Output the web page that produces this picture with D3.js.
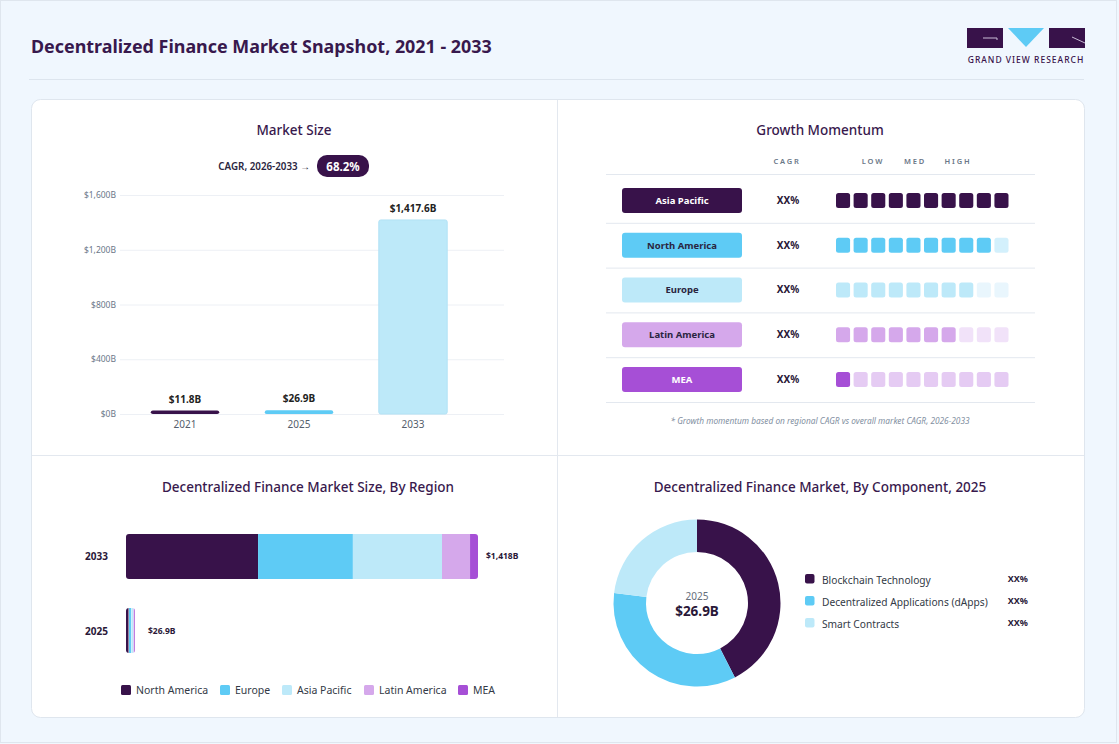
<!DOCTYPE html>
<html>
<head>
<meta charset="utf-8">
<script src="https://cdn.jsdelivr.net/npm/d3@7"></script>
<style>
  body { margin: 0; background: #f0f7fe; font-family: 'Noto Sans', sans-serif; }
  svg { display: block; }
</style>
</head>
<body>
<svg id="chart"></svg>
<script>
// market size
let years = ['2021', '2025', '2033']
let marketSize = [11.8, 26.9, 1417.6]
let marketLabels = ['$11.8B', '$26.9B', '$1,417.6B']
let yTicks = [0, 400, 800, 1200, 1600]

// growth momentum
let momentumRegions = ['Asia Pacific', 'North America', 'Europe', 'Latin America', 'MEA']
let momentumCagr = ['XX%', 'XX%', 'XX%', 'XX%', 'XX%']
let momentumScore = [10, 9, 8, 7, 1]

// by region (USD B)
let regionYears = ['2033', '2025']
let regions = ['North America', 'Europe', 'Asia Pacific', 'Latin America', 'MEA']
let northAmerica = [532, 10.1]
let europe = [382, 7.3]
let asiaPacific = [359, 6.8]
let latinAmerica = [113, 2.1]
let mea = [32, 0.6]
let regionTotals = ['$1,418B', '$26.9B']

// by component 2025 (%)
let components = ['Blockchain Technology', 'Decentralized Applications (dApps)', 'Smart Contracts']
let componentShare = [42.5, 34.4, 23.1]
let componentLabels = ['XX%', 'XX%', 'XX%']

let purple = '#38124a'
let titleColor = '#38194d'
let regionColors = ['#38124a', '#5ecbf5', '#bde9f9', '#d5a8eb', '#a64fd6']
let dimColors = ['#38124a', '#d3f0fc', '#e9f6fd', '#f1e2f9', '#e5cbf3']
let pillText = ['#fff', '#2a2540', '#2a2540', '#2a2540', '#fff']

let width = 1119
let height = 744

let svg = d3.select('#chart').attr('width', width).attr('height', height)

svg.append('rect')
  .attr('x', 0.5).attr('y', 0.5)
  .attr('width', width - 3).attr('height', height - 2)
  .attr('fill', '#f0f7fe')
  .attr('stroke', '#dfe6ee')

svg.append('text')
  .attr('x', 31).attr('y', 53)
  .attr('fill', titleColor)
  .attr('font-size', 17.9).attr('font-weight', 700)
  .text('Decentralized Finance Market Snapshot, 2021 - 2033')

svg.append('line')
  .attr('x1', 29).attr('x2', 1084).attr('y1', 79.5).attr('y2', 79.5)
  .attr('stroke', '#dde5ee')

// logo
let logo = svg.append('g')
logo.append('rect').attr('x', 967).attr('y', 28).attr('width', 36).attr('height', 20).attr('fill', purple)
logo.append('path').attr('d', 'M983,38 L997,38 L997,40').attr('stroke', '#c9bcd6').attr('fill', 'none').attr('stroke-width', 1)
logo.append('path').attr('d', 'M1008,28 L1044,28 L1026,47 Z').attr('fill', '#5ecbf5')
logo.append('rect').attr('x', 1049).attr('y', 28).attr('width', 36).attr('height', 20).attr('fill', purple)
logo.append('path').attr('d', 'M1072,37 L1085,43').attr('stroke', '#c9bcd6').attr('stroke-width', 1)
logo.append('text')
  .attr('x', 1026).attr('y', 63).attr('text-anchor', 'middle')
  .attr('fill', purple).attr('font-size', 8.5).attr('font-weight', 500)
  .attr('letter-spacing', 1)
  .text('GRAND VIEW RESEARCH')

// card
svg.append('rect')
  .attr('x', 31.5).attr('y', 99.5).attr('width', 1053).attr('height', 618).attr('rx', 9)
  .attr('fill', '#fff').attr('stroke', '#dfe6ee')
svg.append('line').attr('x1', 557.5).attr('x2', 557.5).attr('y1', 100).attr('y2', 717).attr('stroke', '#e3e8ef')
svg.append('line').attr('x1', 32).attr('x2', 1084).attr('y1', 455.5).attr('y2', 455.5).attr('stroke', '#e3e8ef')

function panelTitle(x, y, t) {
  svg.append('text')
    .attr('x', x).attr('y', y).attr('text-anchor', 'middle')
    .attr('fill', titleColor).attr('font-size', 13.5).attr('font-weight', 500)
    .text(t)
}

// ---- Market Size ----
panelTitle(294, 135, 'Market Size')

svg.append('text')
  .attr('x', 310).attr('y', 170).attr('text-anchor', 'end')
  .attr('fill', '#2a2540').attr('font-size', 9.8).attr('font-weight', 600)
  .text('CAGR, 2026-2033 →')
svg.append('rect').attr('x', 317).attr('y', 155).attr('width', 52).attr('height', 22).attr('rx', 10).attr('fill', purple)
svg.append('text')
  .attr('x', 343).attr('y', 170.5).attr('text-anchor', 'middle')
  .attr('fill', '#fff').attr('font-size', 11.5).attr('font-weight', 700)
  .text('68.2%')

let x = d3.scaleBand().domain(years).range([128, 470]).paddingInner(0.4).paddingOuter(0.2)
let y = d3.scaleLinear().domain([0, 1600]).range([414, 195])

let msG = svg.append('g')
msG.append('g')
  .attr('transform', 'translate(120,0)')
  .call(d3.axisLeft(y).tickValues(yTicks).tickSize(-384).tickFormat(d => '$' + d3.format(',')(d) + 'B'))
  .call(g => g.select('.domain').remove())
  .call(g => g.selectAll('line').attr('stroke', '#edf0f5'))
  .call(g => g.selectAll('text').attr('x', -4).attr('fill', '#6b7788').attr('font-size', 8.5).attr('font-family', 'Noto Sans'))

msG.append('g')
  .attr('transform', 'translate(0,414)')
  .call(d3.axisBottom(x).tickSize(0).tickPadding(7))
  .call(g => g.select('.domain').remove())
  .call(g => g.selectAll('text').attr('fill', '#555e6b').attr('font-size', 10).attr('font-family', 'Noto Sans'))

let barFill = ['#38124a', '#5ecbf5', '#bde9f9']
msG.selectAll('.bar')
  .data(years)
  .join('rect')
  .attr('class', 'bar')
  .attr('x', d => x(d))
  .attr('width', x.bandwidth())
  .attr('y', (d, i) => Math.min(y(marketSize[i]), 410.5))
  .attr('height', (d, i) => Math.max(414 - y(marketSize[i]), 3.5))
  .attr('rx', 2)
  .attr('fill', (d, i) => barFill[i])
  .attr('stroke', (d, i) => i == 2 ? '#b3e2f5' : 'none')

msG.selectAll('.bar-label')
  .data(years)
  .join('text')
  .attr('x', d => x(d) + x.bandwidth() / 2)
  .attr('y', (d, i) => Math.min(y(marketSize[i]), 410.5) - 8)
  .attr('text-anchor', 'middle')
  .attr('fill', '#222')
  .attr('font-size', 10).attr('font-weight', 700)
  .text((d, i) => marketLabels[i])

// ---- Growth Momentum ----
panelTitle(820, 135, 'Growth Momentum')

let headG = svg.append('g').attr('fill', '#6b7788').attr('font-size', 7.5).attr('font-weight', 600).attr('letter-spacing', 1.8).attr('text-anchor', 'middle')
headG.append('text').attr('x', 787).attr('y', 164).text('CAGR')
headG.append('text').attr('x', 873).attr('y', 164).text('LOW')
headG.append('text').attr('x', 915).attr('y', 164).text('MED')
headG.append('text').attr('x', 958).attr('y', 164).text('HIGH')

let rowY = d3.scaleBand().domain(momentumRegions).range([178, 402])
let cellX = d3.scaleBand().domain(d3.range(10)).range([836, 1008.5]).paddingInner(0.2)

svg.append('line').attr('x1', 606).attr('x2', 1035).attr('y1', 174.5).attr('y2', 174.5).attr('stroke', '#e3e8ef')

let rows = svg.selectAll('.mrow')
  .data(momentumRegions)
  .join('g')
  .attr('class', 'mrow')
  .attr('transform', d => 'translate(0,' + rowY(d) + ')')

rows.append('line').attr('x1', 606).attr('x2', 1035).attr('y1', rowY.bandwidth() + 0.5).attr('y2', rowY.bandwidth() + 0.5).attr('stroke', '#e3e8ef')
rows.append('rect')
  .attr('x', 622).attr('y', rowY.bandwidth() / 2 - 12.5)
  .attr('width', 120).attr('height', 25).attr('rx', 3)
  .attr('fill', (d, i) => regionColors[i])
rows.append('text')
  .attr('x', 682).attr('y', rowY.bandwidth() / 2 + 3.5)
  .attr('text-anchor', 'middle')
  .attr('fill', (d, i) => pillText[i])
  .attr('font-size', 9.5).attr('font-weight', 700)
  .text(d => d)
rows.append('text')
  .attr('x', 788).attr('y', rowY.bandwidth() / 2 + 3.5)
  .attr('text-anchor', 'middle')
  .attr('fill', '#2a1838')
  .attr('font-size', 10).attr('font-weight', 700)
  .text((d, i) => momentumCagr[i])
rows.each(function (d, i) {
  d3.select(this).selectAll('.cell')
    .data(d3.range(10))
    .join('rect')
    .attr('x', c => cellX(c))
    .attr('y', rowY.bandwidth() / 2 - 7.5)
    .attr('width', cellX.bandwidth())
    .attr('height', 15)
    .attr('rx', 2.5)
    .attr('fill', c => c < momentumScore[i] ? regionColors[i] : dimColors[i])
})

svg.append('text')
  .attr('x', 820).attr('y', 424).attr('text-anchor', 'middle')
  .attr('fill', '#8390a2').attr('font-size', 8.3).attr('font-style', 'italic')
  .text('* Growth momentum based on regional CAGR vs overall market CAGR, 2026-2033')

// ---- By Region ----
panelTitle(308, 492, 'Decentralized Finance Market Size, By Region')

let regionSeries = [northAmerica, europe, asiaPacific, latinAmerica, mea]
let stackData = regionYears.map((yr, i) => {
  let row = { year: yr }
  regions.forEach((r, j) => { row[r] = regionSeries[j][i] })
  return row
})
let stack = d3.stack().keys(regions)(stackData)

let hx = d3.scaleLinear().domain([0, 1418]).range([126, 478])
let hy = d3.scaleBand().domain(regionYears).range([534, 653]).paddingInner(0.392).paddingOuter(0)

let defs = svg.append('defs')
regionYears.forEach((yr, i) => {
  let tot = d3.sum(regionSeries, s => s[i])
  defs.append('clipPath').attr('id', 'clip' + yr)
    .append('rect')
    .attr('x', hx(0)).attr('y', hy(yr))
    .attr('width', Math.max(hx(tot) - hx(0), 9)).attr('height', hy.bandwidth())
    .attr('rx', 3)
})

let regG = svg.append('g')
stack.forEach((layer, j) => {
  regG.selectAll('.seg' + j)
    .data(layer)
    .join('rect')
    .attr('clip-path', d => 'url(#clip' + d.data.year + ')')
    .attr('x', d => hx(d[0]) + (d.data.year == '2025' ? j * 0.5 : 0))
    .attr('y', d => hy(d.data.year))
    .attr('width', d => Math.max(hx(d[1]) - hx(d[0]), d.data.year == '2025' ? 2 : 0))
    .attr('height', hy.bandwidth())
    .attr('fill', regionColors[j])
})

regG.selectAll('.ylab')
  .data(regionYears)
  .join('text')
  .attr('x', 108).attr('y', d => hy(d) + hy.bandwidth() / 2 + 4)
  .attr('text-anchor', 'end')
  .attr('fill', '#2a1838').attr('font-size', 10).attr('font-weight', 700)
  .text(d => d)

regG.selectAll('.tot')
  .data(regionYears)
  .join('text')
  .attr('x', (d, i) => Math.max(hx(d3.sum(regionSeries, s => s[i])), 135) + (i == 0 ? 8 : 13))
  .attr('y', d => hy(d) + hy.bandwidth() / 2 + 3)
  .attr('fill', '#2a1838').attr('font-size', 8.5).attr('font-weight', 700)
  .text((d, i) => regionTotals[i])

let legX = [121, 220, 282, 364, 458]
let leg = svg.selectAll('.rleg')
  .data(regions)
  .join('g')
  .attr('transform', (d, i) => 'translate(' + legX[i] + ',685)')
leg.append('rect').attr('width', 10).attr('height', 10).attr('rx', 1.5).attr('fill', (d, i) => regionColors[i])
leg.append('text').attr('x', 15).attr('y', 9).attr('fill', '#333a46').attr('font-size', 10.5).text(d => d)

// ---- By Component ----
panelTitle(820, 492, 'Decentralized Finance Market, By Component, 2025')

let pie = d3.pie().sort(null).value(d => d)
let arc = d3.arc().innerRadius(51).outerRadius(83.5)
let donut = svg.append('g').attr('transform', 'translate(697,603)')
donut.selectAll('path')
  .data(pie(componentShare))
  .join('path')
  .attr('d', arc)
  .attr('fill', (d, i) => regionColors[i])
donut.append('text').attr('y', -3).attr('text-anchor', 'middle').attr('fill', '#666e7a').attr('font-size', 10).text('2025')
donut.append('text').attr('y', 13).attr('text-anchor', 'middle').attr('fill', '#2a1838').attr('font-size', 13.5).attr('font-weight', 700).text('$26.9B')

let cleg = svg.selectAll('.cleg')
  .data(components)
  .join('g')
  .attr('transform', (d, i) => 'translate(805,' + (574 + i * 22) + ')')
cleg.append('rect').attr('width', 9.5).attr('height', 9.5).attr('rx', 2).attr('fill', (d, i) => regionColors[i])
cleg.append('text').attr('x', 17).attr('y', 10).attr('fill', '#333a46').attr('font-size', 10.2).text(d => d)
cleg.append('text').attr('x', 1028).attr('dx', -805).attr('y', 8).attr('text-anchor', 'end')
  .attr('fill', '#2a1838').attr('font-size', 9).attr('font-weight', 700)
  .text((d, i) => componentLabels[i])
</script>
</body>
</html>
